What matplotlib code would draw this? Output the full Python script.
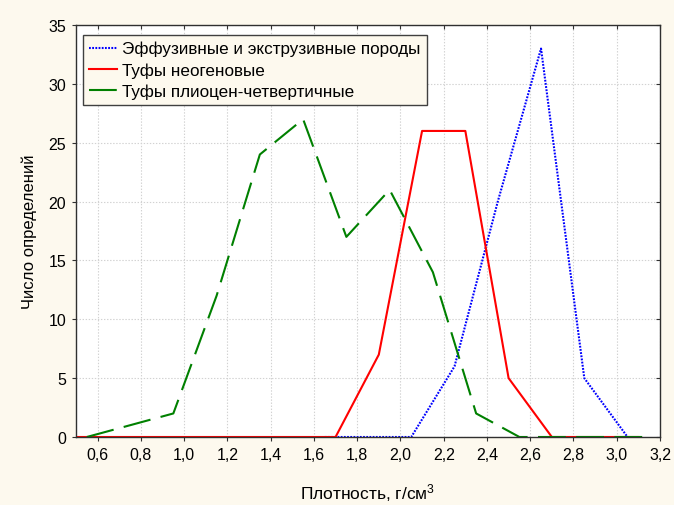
import matplotlib
matplotlib.use("Agg")
import matplotlib.pyplot as plt
from matplotlib.ticker import FuncFormatter, MultipleLocator

plt.rcParams['font.family'] = ['Liberation Sans', 'DejaVu Sans']
plt.rcParams['mathtext.fontset'] = 'custom'
plt.rcParams['mathtext.rm'] = 'Liberation Sans'
plt.rcParams['mathtext.default'] = 'regular'
plt.rcParams['lines.scale_dashes'] = False

# Data
blue_x = [1.65, 1.85, 2.05, 2.25, 2.45, 2.65, 2.85, 3.05]
blue_y = [0, 0, 0, 6, 20, 33, 5, 0]
red_x = [0.5, 0.7, 0.9, 1.1, 1.3, 1.5, 1.7, 1.9, 2.1, 2.3, 2.5, 2.7, 2.9, 3.1]
red_y = [0, 0, 0, 0, 0, 0, 0, 7, 26, 26, 5, 0, 0, 0]
green_x = [0.55, 0.75, 0.95, 1.15, 1.35, 1.55, 1.75, 1.95, 2.15, 2.35, 2.55, 2.75, 2.95, 3.15]
green_y = [0, 1, 2, 12, 24, 27, 17, 21, 14, 2, 0, 0, 0, 0]
series_names = ["Эффузивные и экструзивные породы", "Туфы неогеновые", "Туфы плиоцен-четвертичные"]
x_label = "Плотность, г/см$^3$"
y_label = "Число определений"

bg = '#FDF9EE'
fig = plt.figure(figsize=(6.74, 5.06), dpi=100, facecolor=bg)
ax = fig.add_axes([76/674, 1-438/506, (660-76)/674, (438-26)/506])
ax.set_facecolor('white')

ax.plot(blue_x, blue_y, color='#0000FF', lw=1.5, linestyle=(0, (1.3, 1.0)), label=series_names[0])
ax.plot(red_x, red_y, color='#FF0000', lw=1.5, label=series_names[1])
ax.plot(green_x, green_y, color='#008000', lw=1.5, linestyle=(0, (20, 7.5)), label=series_names[2])

ax.set_xlim(0.5, 3.2)
ax.set_ylim(0, 35)
ax.xaxis.set_major_locator(MultipleLocator(0.2))
ax.yaxis.set_major_locator(MultipleLocator(5))
ax.xaxis.set_major_formatter(FuncFormatter(lambda v, p: f"{v:.1f}".replace('.', ',')))
ax.yaxis.set_major_formatter(FuncFormatter(lambda v, p: f"{int(round(v))}"))

ax.grid(True, color='#D2D2D2', linestyle=(0, (1, 1.2)), lw=0.8)
ax.set_axisbelow(True)
for s in ax.spines.values():
    s.set_color('#303030')
    s.set_linewidth(1.0)

ax.tick_params(axis='both', which='major', labelsize=11.5, length=3, width=0.8, color='#303030',
               direction='out', pad=4)
ax.tick_params(top=True, right=True)
for t in ax.xaxis.get_major_ticks():
    t.tick2line.set_marker(3)  # inward at top
for t in ax.yaxis.get_major_ticks():
    t.tick2line.set_marker(0)

ax.set_xlabel(x_label, fontsize=12.5, labelpad=14)
ax.set_ylabel(y_label, fontsize=12, labelpad=8)

leg = ax.legend(loc='upper left', bbox_to_anchor=(7/584, (438-36)/412), borderaxespad=0,
                fancybox=False, edgecolor='#404040', facecolor=bg, framealpha=1,
                fontsize=12.3, handlelength=1.65, handletextpad=0.3, labelspacing=0.34,
                borderpad=0.35)
leg.get_frame().set_linewidth(1.0)

fig.savefig('out.png', dpi=100, facecolor=bg)
